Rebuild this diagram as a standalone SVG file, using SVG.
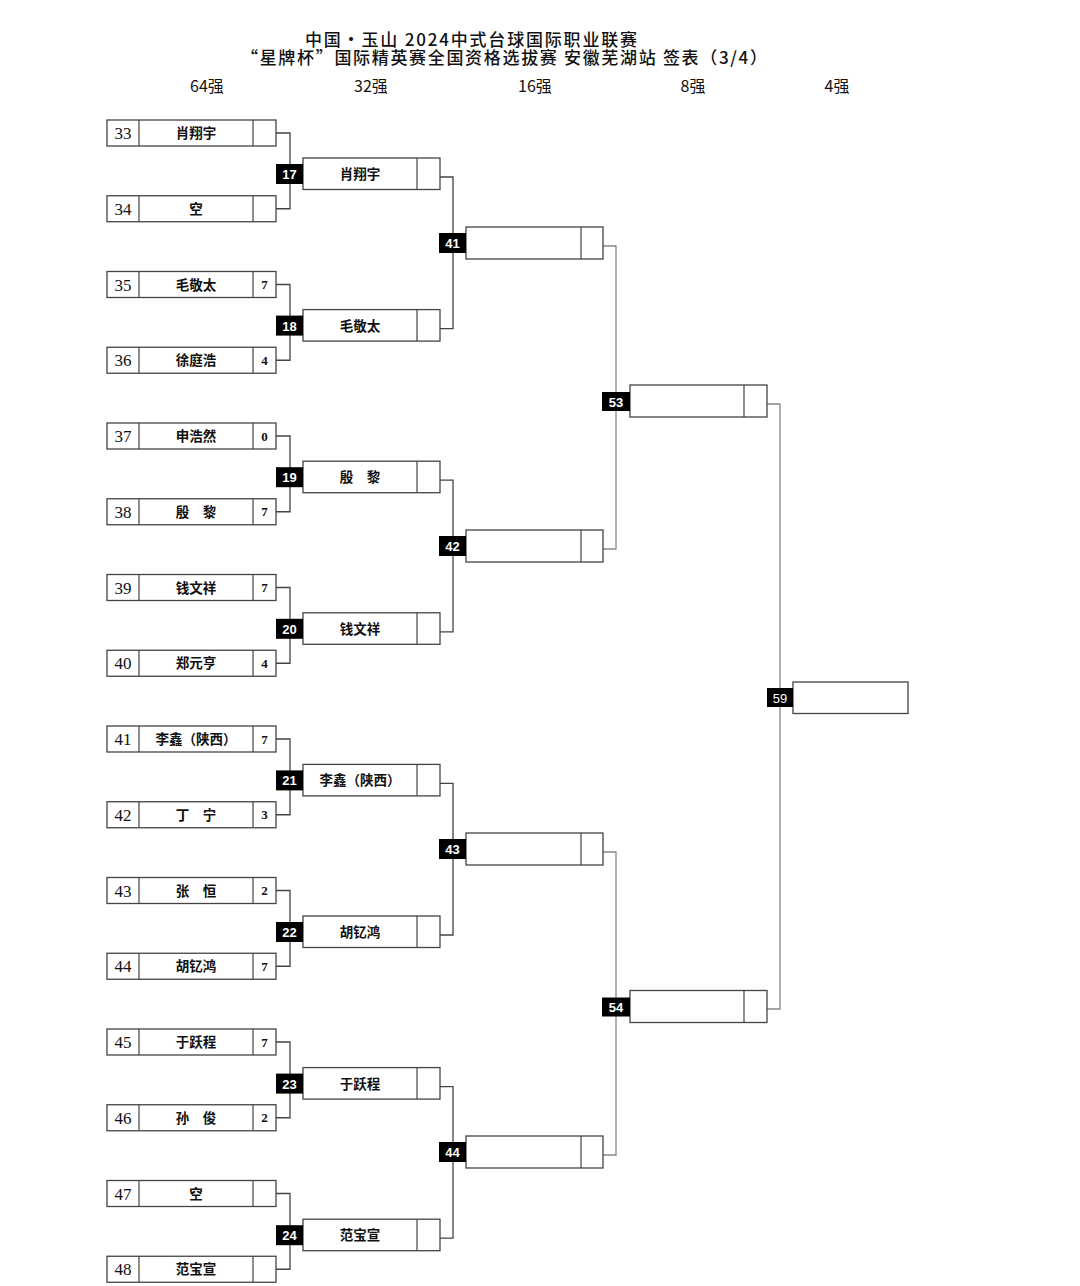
<svg xmlns="http://www.w3.org/2000/svg" width="1080" height="1286" viewBox="0 0 1080 1286">
<style>
.bx{fill:#fff;stroke:#444;stroke-width:1.3}
.dv{stroke:#444;stroke-width:1.2}
.ln{fill:none;stroke:#444;stroke-width:1.3}
.lg{fill:none;stroke:#888;stroke-width:1.3}
.lab{fill:#000}
.lt{font-family:"Liberation Sans","Noto Sans",sans-serif;font-weight:bold;font-size:13px;fill:#fff;text-anchor:middle}
.num{font-family:"Liberation Serif",serif;font-size:17px;fill:#111;text-anchor:middle}
.nm{font-family:"Noto Sans CJK SC","Noto Sans",sans-serif;font-weight:bold;font-size:13.5px;fill:#111;text-anchor:middle}
.sc{font-family:"Liberation Serif",serif;font-weight:bold;font-size:13px;fill:#111;text-anchor:middle}
.ttl{font-family:"Noto Sans CJK SC","Liberation Sans",sans-serif;font-size:17px;font-weight:500;fill:#111}
.hd{font-family:"Noto Sans CJK SC","Liberation Sans",sans-serif;font-size:16px;fill:#111;text-anchor:middle}
</style>
<rect width="1080" height="1286" fill="#fff"/>
<g id="title">
<text class="ttl" x="305" y="46" textLength="332">中国·玉山 2024中式台球国际职业联赛</text>
<text class="ttl" x="241" y="64" textLength="526">“星牌杯”国际精英赛全国资格选拔赛 安徽芜湖站 签表（3/4）</text>
<text class="hd" x="207" y="92">64强</text>
<text class="hd" x="371" y="92">32强</text>
<text class="hd" x="535" y="92">16强</text>
<text class="hd" x="693" y="92">8强</text>
<text class="hd" x="837" y="92">4强</text>
</g>
<g id="connectors">
<path class="ln" d="M276,133H290V208.75H276"/>
<path class="ln" d="M276,284.5H290V360.25H276"/>
<path class="ln" d="M276,436H290V511.75H276"/>
<path class="ln" d="M276,587.5H290V663.25H276"/>
<path class="ln" d="M276,739H290V814.75H276"/>
<path class="ln" d="M276,890.5H290V966.25H276"/>
<path class="ln" d="M276,1042H290V1117.75H276"/>
<path class="ln" d="M276,1193.5H290V1269.25H276"/>
<path class="ln" d="M440,177H453V328.6H440"/>
<path class="ln" d="M440,480.2H453V631.8H440"/>
<path class="ln" d="M440,783.4H453V935H440"/>
<path class="ln" d="M440,1086.6H453V1238.2H440"/>
<path class="lg" d="M603,246H616V549H603"/>
<path class="lg" d="M603,852H616V1155H603"/>
<path class="lg" d="M767,404H780V1009H767"/>
</g>
<g id="p33"><rect class="bx" x="107" y="120" width="169" height="26"/><line class="dv" x1="139" y1="120" x2="139" y2="146"/><line class="dv" x1="253" y1="120" x2="253" y2="146"/><text class="num" x="123" y="139">33</text><text class="nm" x="196" y="138">肖翔宇</text></g>
<g id="p34"><rect class="bx" x="107" y="195.75" width="169" height="26"/><line class="dv" x1="139" y1="195.75" x2="139" y2="221.75"/><line class="dv" x1="253" y1="195.75" x2="253" y2="221.75"/><text class="num" x="123" y="214.75">34</text><text class="nm" x="196" y="213.75">空</text></g>
<g id="p35"><rect class="bx" x="107" y="271.5" width="169" height="26"/><line class="dv" x1="139" y1="271.5" x2="139" y2="297.5"/><line class="dv" x1="253" y1="271.5" x2="253" y2="297.5"/><text class="num" x="123" y="290.5">35</text><text class="nm" x="196" y="289.5">毛敬太</text><text class="sc" x="264.5" y="289">7</text></g>
<g id="p36"><rect class="bx" x="107" y="347.25" width="169" height="26"/><line class="dv" x1="139" y1="347.25" x2="139" y2="373.25"/><line class="dv" x1="253" y1="347.25" x2="253" y2="373.25"/><text class="num" x="123" y="366.25">36</text><text class="nm" x="196" y="365.25">徐庭浩</text><text class="sc" x="264.5" y="364.75">4</text></g>
<g id="p37"><rect class="bx" x="107" y="423" width="169" height="26"/><line class="dv" x1="139" y1="423" x2="139" y2="449"/><line class="dv" x1="253" y1="423" x2="253" y2="449"/><text class="num" x="123" y="442">37</text><text class="nm" x="196" y="441">申浩然</text><text class="sc" x="264.5" y="440.5">0</text></g>
<g id="p38"><rect class="bx" x="107" y="498.75" width="169" height="26"/><line class="dv" x1="139" y1="498.75" x2="139" y2="524.75"/><line class="dv" x1="253" y1="498.75" x2="253" y2="524.75"/><text class="num" x="123" y="517.75">38</text><text class="nm" x="196" y="516.75">殷　黎</text><text class="sc" x="264.5" y="516.25">7</text></g>
<g id="p39"><rect class="bx" x="107" y="574.5" width="169" height="26"/><line class="dv" x1="139" y1="574.5" x2="139" y2="600.5"/><line class="dv" x1="253" y1="574.5" x2="253" y2="600.5"/><text class="num" x="123" y="593.5">39</text><text class="nm" x="196" y="592.5">钱文祥</text><text class="sc" x="264.5" y="592">7</text></g>
<g id="p40"><rect class="bx" x="107" y="650.25" width="169" height="26"/><line class="dv" x1="139" y1="650.25" x2="139" y2="676.25"/><line class="dv" x1="253" y1="650.25" x2="253" y2="676.25"/><text class="num" x="123" y="669.25">40</text><text class="nm" x="196" y="668.25">郑元亨</text><text class="sc" x="264.5" y="667.75">4</text></g>
<g id="p41"><rect class="bx" x="107" y="726" width="169" height="26"/><line class="dv" x1="139" y1="726" x2="139" y2="752"/><line class="dv" x1="253" y1="726" x2="253" y2="752"/><text class="num" x="123" y="745">41</text><text class="nm" x="196" y="744">李鑫（陕西）</text><text class="sc" x="264.5" y="743.5">7</text></g>
<g id="p42"><rect class="bx" x="107" y="801.75" width="169" height="26"/><line class="dv" x1="139" y1="801.75" x2="139" y2="827.75"/><line class="dv" x1="253" y1="801.75" x2="253" y2="827.75"/><text class="num" x="123" y="820.75">42</text><text class="nm" x="196" y="819.75">丁　宁</text><text class="sc" x="264.5" y="819.25">3</text></g>
<g id="p43"><rect class="bx" x="107" y="877.5" width="169" height="26"/><line class="dv" x1="139" y1="877.5" x2="139" y2="903.5"/><line class="dv" x1="253" y1="877.5" x2="253" y2="903.5"/><text class="num" x="123" y="896.5">43</text><text class="nm" x="196" y="895.5">张　恒</text><text class="sc" x="264.5" y="895">2</text></g>
<g id="p44"><rect class="bx" x="107" y="953.25" width="169" height="26"/><line class="dv" x1="139" y1="953.25" x2="139" y2="979.25"/><line class="dv" x1="253" y1="953.25" x2="253" y2="979.25"/><text class="num" x="123" y="972.25">44</text><text class="nm" x="196" y="971.25">胡钇鸿</text><text class="sc" x="264.5" y="970.75">7</text></g>
<g id="p45"><rect class="bx" x="107" y="1029" width="169" height="26"/><line class="dv" x1="139" y1="1029" x2="139" y2="1055"/><line class="dv" x1="253" y1="1029" x2="253" y2="1055"/><text class="num" x="123" y="1048">45</text><text class="nm" x="196" y="1047">于跃程</text><text class="sc" x="264.5" y="1046.5">7</text></g>
<g id="p46"><rect class="bx" x="107" y="1104.75" width="169" height="26"/><line class="dv" x1="139" y1="1104.75" x2="139" y2="1130.75"/><line class="dv" x1="253" y1="1104.75" x2="253" y2="1130.75"/><text class="num" x="123" y="1123.75">46</text><text class="nm" x="196" y="1122.75">孙　俊</text><text class="sc" x="264.5" y="1122.25">2</text></g>
<g id="p47"><rect class="bx" x="107" y="1180.5" width="169" height="26"/><line class="dv" x1="139" y1="1180.5" x2="139" y2="1206.5"/><line class="dv" x1="253" y1="1180.5" x2="253" y2="1206.5"/><text class="num" x="123" y="1199.5">47</text><text class="nm" x="196" y="1198.5">空</text></g>
<g id="p48"><rect class="bx" x="107" y="1256.25" width="169" height="26"/><line class="dv" x1="139" y1="1256.25" x2="139" y2="1282.25"/><line class="dv" x1="253" y1="1256.25" x2="253" y2="1282.25"/><text class="num" x="123" y="1275.25">48</text><text class="nm" x="196" y="1274.25">范宝宣</text></g>
<g id="m17"><rect class="bx" x="303" y="158" width="137" height="31.5"/><line class="dv" x1="417" y1="158" x2="417" y2="189.5"/><rect class="lab" x="276" y="164" width="27" height="20"/><text class="lt" x="289.5" y="179">17</text><text class="nm" x="360" y="179">肖翔宇</text></g>
<g id="m18"><rect class="bx" x="303" y="309.6" width="137" height="31.5"/><line class="dv" x1="417" y1="309.6" x2="417" y2="341.1"/><rect class="lab" x="276" y="315.6" width="27" height="20"/><text class="lt" x="289.5" y="330.6">18</text><text class="nm" x="360" y="330.6">毛敬太</text></g>
<g id="m19"><rect class="bx" x="303" y="461.2" width="137" height="31.5"/><line class="dv" x1="417" y1="461.2" x2="417" y2="492.7"/><rect class="lab" x="276" y="467.2" width="27" height="20"/><text class="lt" x="289.5" y="482.2">19</text><text class="nm" x="360" y="482.2">殷　黎</text></g>
<g id="m20"><rect class="bx" x="303" y="612.8" width="137" height="31.5"/><line class="dv" x1="417" y1="612.8" x2="417" y2="644.3"/><rect class="lab" x="276" y="618.8" width="27" height="20"/><text class="lt" x="289.5" y="633.8">20</text><text class="nm" x="360" y="633.8">钱文祥</text></g>
<g id="m21"><rect class="bx" x="303" y="764.4" width="137" height="31.5"/><line class="dv" x1="417" y1="764.4" x2="417" y2="795.9"/><rect class="lab" x="276" y="770.4" width="27" height="20"/><text class="lt" x="289.5" y="785.4">21</text><text class="nm" x="360" y="785.4">李鑫（陕西）</text></g>
<g id="m22"><rect class="bx" x="303" y="916" width="137" height="31.5"/><line class="dv" x1="417" y1="916" x2="417" y2="947.5"/><rect class="lab" x="276" y="922" width="27" height="20"/><text class="lt" x="289.5" y="937">22</text><text class="nm" x="360" y="937">胡钇鸿</text></g>
<g id="m23"><rect class="bx" x="303" y="1067.6" width="137" height="31.5"/><line class="dv" x1="417" y1="1067.6" x2="417" y2="1099.1"/><rect class="lab" x="276" y="1073.6" width="27" height="20"/><text class="lt" x="289.5" y="1088.6">23</text><text class="nm" x="360" y="1088.6">于跃程</text></g>
<g id="m24"><rect class="bx" x="303" y="1219.2" width="137" height="31.5"/><line class="dv" x1="417" y1="1219.2" x2="417" y2="1250.7"/><rect class="lab" x="276" y="1225.2" width="27" height="20"/><text class="lt" x="289.5" y="1240.2">24</text><text class="nm" x="360" y="1240.2">范宝宣</text></g>
<g id="m41"><rect class="bx" x="466" y="227" width="137" height="32"/><line class="dv" x1="581" y1="227" x2="581" y2="259"/><rect class="lab" x="439" y="233" width="27" height="20"/><text class="lt" x="452.5" y="248">41</text></g>
<g id="m42"><rect class="bx" x="466" y="530" width="137" height="32"/><line class="dv" x1="581" y1="530" x2="581" y2="562"/><rect class="lab" x="439" y="536" width="27" height="20"/><text class="lt" x="452.5" y="551">42</text></g>
<g id="m43"><rect class="bx" x="466" y="833" width="137" height="32"/><line class="dv" x1="581" y1="833" x2="581" y2="865"/><rect class="lab" x="439" y="839" width="27" height="20"/><text class="lt" x="452.5" y="854">43</text></g>
<g id="m44"><rect class="bx" x="466" y="1136" width="137" height="32"/><line class="dv" x1="581" y1="1136" x2="581" y2="1168"/><rect class="lab" x="439" y="1142" width="27" height="20"/><text class="lt" x="452.5" y="1157">44</text></g>
<g id="m53"><rect class="bx" x="630" y="385" width="137" height="32"/><line class="dv" x1="744" y1="385" x2="744" y2="417"/><rect class="lab" x="602" y="392" width="28" height="19"/><text class="lt" x="616" y="406.5">53</text></g>
<g id="m54"><rect class="bx" x="630" y="990.5" width="137" height="32"/><line class="dv" x1="744" y1="990.5" x2="744" y2="1022.5"/><rect class="lab" x="602" y="997.5" width="28" height="19"/><text class="lt" x="616" y="1012">54</text></g>
<g id="m59"><rect class="bx" x="793" y="682" width="115" height="31.5"/><rect class="lab" x="767" y="688" width="26" height="19"/><text class="lt" x="780" y="702.5" style="font-weight:normal">59</text></g>
</svg>
